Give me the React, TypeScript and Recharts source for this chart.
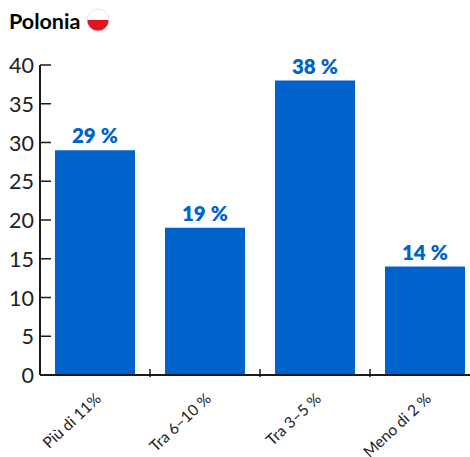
import React from "react";
import { BarChart, Bar, XAxis, YAxis, LabelList } from "recharts";

const categories = ["Più di 11%", "Tra 6–10 %", "Tra 3–5 %", "Meno di 2 %"];
const values = [29, 19, 38, 14];
const yTicks = [0, 5, 10, 15, 20, 25, 30, 35, 40];

const data = categories.map((name, i) => ({ name, value: values[i] }));

const FONT = "Lato";
const AXIS = "#1a1a1a";
const BLUE = "#0063cb";

function XTick({ x, y, payload }: any) {
  return (
    <g>
      {/* tick sits on the band boundary, not the centre */}
      <line x1={x + 55} x2={x + 55} y1={y - 8} y2={y} stroke={AXIS} strokeWidth={1.5} />
      <text
        transform={`translate(${x + 7},${y + 23}) rotate(-43)`}
        textAnchor="end"
        fontFamily={FONT}
        fontSize={15.5}
        fill="#222"
      >
        {payload.value}
      </text>
    </g>
  );
}

function YTick({ x, y, payload }: any) {
  return (
    <g>
      {payload.value > 0 && (
        <line x1={x} x2={x + 11} y1={y} y2={y} stroke={AXIS} strokeWidth={1.5} />
      )}
      <text x={x - 6} y={y + 8} textAnchor="end" fontFamily={FONT} fontSize={21.5} fill="#222">
        {payload.value}
      </text>
    </g>
  );
}

function Flag() {
  return (
    <svg width={24} height={24} viewBox="0 0 24 24" style={{ position: "absolute", left: 86, top: 8 }}>
      <defs>
        <clipPath id="flag-clip">
          <circle cx={12} cy={12} r={11} />
        </clipPath>
      </defs>
      <g clipPath="url(#flag-clip)">
        <rect x={0} y={0} width={24} height={12} fill="#fff" />
        <rect x={0} y={12} width={24} height={12} fill="#e2141f" />
      </g>
      <circle cx={12} cy={12} r={11} fill="none" stroke="#ddd" strokeWidth={0.75} />
    </svg>
  );
}

export default function App() {
  return (
    <div style={{ position: "absolute", left: 0, top: 0, width: 470, height: 457, overflow: "hidden", background: "#fff" }}>
      <div style={{ position: "absolute", left: 9, top: 9, fontFamily: FONT, fontWeight: 700, fontSize: 21.5, lineHeight: "24px", color: "#000" }}>
        Polonia
      </div>
      <Flag />
      <BarChart
        width={480}
        height={457}
        data={data}
        barSize={80}
        margin={{ top: 65, right: 0, bottom: 0, left: 0 }}
      >
        <XAxis
          dataKey="name"
          interval={0}
          height={82}
          tickLine={false}
          tickSize={0}
          tick={<XTick />}
          axisLine={{ stroke: AXIS, strokeWidth: 2 }}
        />
        <YAxis
          width={40}
          domain={[0, 40]}
          ticks={yTicks}
          interval={0}
          tickLine={false}
          tickSize={0}
          tickMargin={0}
          tick={<YTick />}
          axisLine={{ stroke: AXIS, strokeWidth: 2 }}
        />
        <Bar dataKey="value" fill={BLUE} isAnimationActive={false}>
          <LabelList
            dataKey="value"
            position="top"
            offset={7}
            formatter={(v: any) => `${v}\u202f%`}
            style={{ fontFamily: FONT, fontWeight: 800, fontSize: 20.5, fill: BLUE }}
          />
        </Bar>
      </BarChart>
    </div>
  );
}
